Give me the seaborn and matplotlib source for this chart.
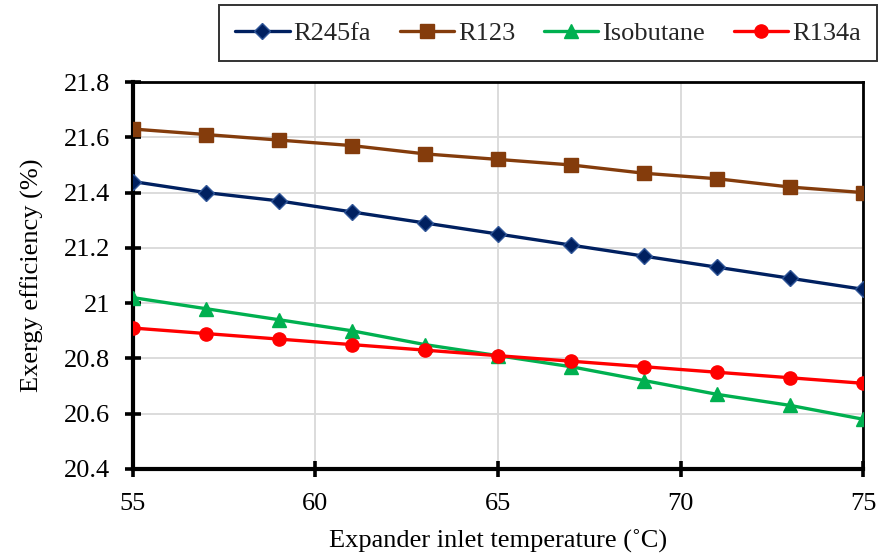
import matplotlib
matplotlib.use("Agg")
import matplotlib.pyplot as plt
from matplotlib.ticker import FuncFormatter, MultipleLocator
import numpy as np
import pandas as pd
import seaborn as sns

temperature = [55, 57, 59, 61, 63, 65, 67, 69, 71, 73, 75]
r245fa = [21.44, 21.40, 21.37, 21.33, 21.29, 21.25, 21.21, 21.17, 21.13, 21.09, 21.05]
r123 = [21.63, 21.61, 21.59, 21.57, 21.54, 21.52, 21.50, 21.47, 21.45, 21.42, 21.40]
isobutane = [21.02, 20.98, 20.94, 20.90, 20.85, 20.81, 20.77, 20.72, 20.67, 20.63, 20.58]
r134a = [20.91, 20.89, 20.87, 20.85, 20.83, 20.81, 20.79, 20.77, 20.75, 20.73, 20.71]
fluids = ["R245fa", "R123", "Isobutane", "R134a"]

df = pd.DataFrame({
    "T": temperature * 4,
    "eff": r245fa + r123 + isobutane + r134a,
    "fluid": np.repeat(fluids, len(temperature)),
})

sns.set_theme(style="white")
plt.rcParams["font.family"] = ["Liberation Serif", "DejaVu Serif"]

palette = {"R245fa": "#002060", "R123": "#843C0C", "Isobutane": "#00B050", "R134a": "#FF0000"}
markers = {"R245fa": "D", "R123": "s", "Isobutane": "^", "R134a": "o"}
edges = {"R245fa": "#2F5597", "R123": "#843C0C", "Isobutane": "#00B050", "R134a": "#FF0000"}
msizes = {"R245fa": 8.5, "R123": 9.5, "Isobutane": 10, "R134a": 9.5}

fig = plt.figure(figsize=(8.8, 5.58), dpi=100)
ax = fig.add_axes([0.151, 0.1595, 0.830, 0.6935])

for name in fluids:
    sub = df[df["fluid"] == name]
    sns.lineplot(data=sub, x="T", y="eff", ax=ax, color=palette[name], lw=2.4,
                 marker=markers[name], markersize=msizes[name],
                 markeredgecolor=edges[name], markeredgewidth=1.0,
                 label=name, zorder=3)

ax.set_xlim(55, 75)
ax.set_ylim(20.4, 21.8)
ax.xaxis.set_major_locator(MultipleLocator(5))
ax.yaxis.set_major_locator(MultipleLocator(0.2))
ax.yaxis.set_major_formatter(FuncFormatter(lambda v, p: f"{round(v, 1):g}"))
ax.grid(True, color="#D9D9D9", lw=1.3, zorder=0)
ax.set_axisbelow(True)

for side in ["left", "bottom"]:
    ax.spines[side].set_linewidth(3.0)
    ax.spines[side].set_color("black")
for side in ["top", "right"]:
    ax.spines[side].set_linewidth(2.0)
    ax.spines[side].set_color("black")

ax.tick_params(axis="both", which="major", direction="inout", length=11, width=2.6,
               colors="black", labelsize=19)
ax.tick_params(axis="y", pad=11)
ax.tick_params(axis="x", pad=12)
ax.tick_params(top=False, right=False, left=True, bottom=True)

ax.set_xlabel("Expander inlet temperature (˚C)", fontsize=19, labelpad=10, color="black")
ax.set_ylabel("Exergy efficiency (%)", fontsize=19, labelpad=14, color="black")

if ax.legend_:
    ax.legend_.remove()
handles, labels = ax.get_legend_handles_labels()
leg = fig.legend(handles, labels, loc="upper right", bbox_to_anchor=(0.997, 0.991),
                 ncol=4, frameon=True, fancybox=False, fontsize=19,
                 handlelength=2.05, handletextpad=0.15, columnspacing=1.1,
                 borderpad=0.62, borderaxespad=0.0, edgecolor="black")
leg.get_frame().set_linewidth(1.4)

fig.savefig("out.png", dpi=100)
